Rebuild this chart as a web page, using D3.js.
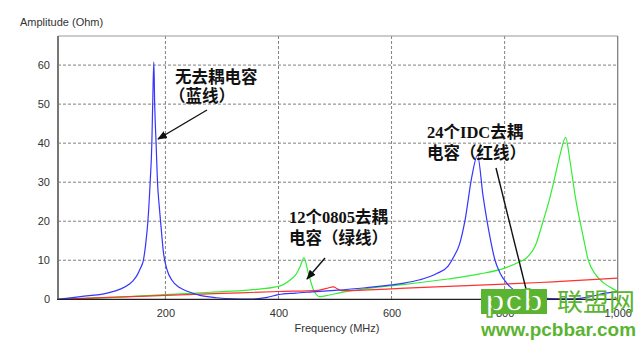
<!DOCTYPE html>
<html>
<head>
<meta charset="utf-8">
<script src="https://cdn.jsdelivr.net/npm/d3@7"></script>
<style>
  html, body { margin: 0; padding: 0; background: #fff; }
  svg { display: block; }
</style>
</head>
<body>
<svg id="chart" width="643" height="347"></svg>
<script>
// Impedance magnitude vs frequency for three decoupling configurations
const xTicks = [200, 400, 600, 800, 1000];
const yTicks = [0, 10, 20, 30, 40, 50, 60];

// No decoupling capacitors (blue)
const blueFreq = [10, 50, 97, 120, 137, 143, 150, 156, 161, 165, 169, 173, 176, 177.5, 179.5, 181, 183.5, 186, 189, 192, 196.5, 203, 211, 225, 240, 261, 290, 320, 350, 380, 400, 430, 460, 500, 550, 600, 620, 650, 680, 700, 710, 720, 730, 742, 752, 762, 774, 783, 792, 804, 827, 850, 880, 920, 950, 975, 1000];
const blueZ    = [0, 0.7, 1.6, 2.6, 4, 4.8, 6.2, 8, 10, 14, 20, 30, 40, 50, 60.8, 50, 40, 30, 24, 19, 12, 7.5, 5, 3, 2, 1, 0.4, 0.1, 0.05, 0.5, 1.2, 1.6, 1.9, 2.3, 2.9, 3.7, 4.1, 5.0, 6.6, 8.5, 10.9, 14, 20.3, 31.4, 36.9, 26.3, 16, 10, 6.7, 4.1, 1.5, 0.8, 0.2, 0.1, 0.6, 1.5, 1.9];

// 12 x 0805 decoupling capacitors (green)
const greenFreq = [10, 50, 100, 150, 200, 280, 350, 400, 420, 430, 438, 445, 453, 462, 473, 490, 510, 530, 570, 615, 700, 756, 800, 825, 838, 855, 868, 880, 889, 898, 908, 915, 925, 939, 948, 960, 975, 990, 1000];
const greenZ    = [0, 0.2, 0.45, 0.8, 1.2, 1.8, 2.4, 3.3, 4.9, 6.2, 8.3, 10.6, 6.6, 2.4, 0.7, 1.1, 1.7, 2.2, 3.0, 3.7, 5.2, 6.5, 8, 9.5, 10.5, 14, 20, 26, 31.4, 37, 41.5, 36, 26.3, 16, 10, 6.5, 4.2, 2.8, 2];

// 24 x IDC decoupling capacitors (red)
const redFreq = [10, 100, 200, 300, 400, 470, 485, 497, 505, 512, 615, 700, 800, 862, 900, 1000];
const redZ    = [0, 0.5, 1.0, 1.5, 2.0, 2.3, 2.8, 3.2, 2.6, 2.2, 2.8, 3.3, 3.9, 4.3, 4.6, 5.4];

const svg = d3.select("#chart");
const plotLeft = 58, plotRight = 617.7, plotTop = 36, plotBottom = 299.3;

const x = d3.scaleLinear().domain([10, 1000]).range([plotLeft, plotRight]);
const y = d3.scaleLinear().domain([0, 67.45]).range([plotBottom, plotTop]);

// Dashed grid
const grid = svg.append("g");
grid.selectAll("line.h").data(yTicks.filter(d => d > 0)).join("line")
  .attr("x1", plotLeft).attr("x2", plotRight)
  .attr("y1", d => y(d)).attr("y2", d => y(d))
  .attr("stroke", "#808080").attr("stroke-width", 1).attr("stroke-dasharray", "3,2");
grid.selectAll("line.v").data(xTicks.filter(d => d < 1000)).join("line")
  .attr("x1", d => x(d)).attr("x2", d => x(d))
  .attr("y1", plotTop).attr("y2", plotBottom)
  .attr("stroke", "#808080").attr("stroke-width", 1).attr("stroke-dasharray", "3,2");

// Axes (labels only)
const yAxis = svg.append("g").attr("transform", `translate(${plotLeft - 8},0)`)
  .call(d3.axisLeft(y).tickValues(yTicks).tickSize(0).tickPadding(0));
yAxis.select(".domain").remove();
yAxis.selectAll("text").attr("font-family", "Liberation Sans, Arial, sans-serif")
  .attr("font-size", 11).attr("fill", "#333");

const xAxis = svg.append("g").attr("transform", `translate(0,${plotBottom + 10})`)
  .call(d3.axisBottom(x).tickValues(xTicks).tickSize(0).tickPadding(0));
xAxis.select(".domain").remove();
xAxis.selectAll("text").attr("font-family", "Liberation Sans, Arial, sans-serif")
  .attr("font-size", 11).attr("fill", "#333");

// Curves
const line = d3.line().x(d => x(d[0])).y(d => y(d[1])).curve(d3.curveMonotoneX);
const series = [
  { f: greenFreq, z: greenZ, color: "#33ee33" },
  { f: redFreq, z: redZ, color: "#ff3030" },
  { f: blueFreq, z: blueZ, color: "#3535ff" }
];
series.forEach(s => {
  svg.append("path")
    .datum(s.f.map((f, i) => [f, s.z[i]]))
    .attr("d", line)
    .attr("fill", "none")
    .attr("stroke", s.color)
    .attr("stroke-width", 1.2);
});

// Frame
svg.append("line").attr("x1", plotLeft).attr("x2", plotRight).attr("y1", plotTop).attr("y2", plotTop)
  .attr("stroke", "#999").attr("stroke-width", 1);
svg.append("line").attr("x1", plotRight).attr("x2", plotRight).attr("y1", plotTop).attr("y2", plotBottom)
  .attr("stroke", "#777").attr("stroke-width", 1.2);
svg.append("line").attr("x1", plotLeft).attr("x2", plotLeft).attr("y1", plotTop).attr("y2", plotBottom)
  .attr("stroke", "#777").attr("stroke-width", 2);
svg.append("line").attr("x1", plotLeft - 1).attr("x2", plotRight).attr("y1", plotBottom).attr("y2", plotBottom)
  .attr("stroke", "#222").attr("stroke-width", 1.2);

// Axis titles
svg.append("text").attr("x", 20).attr("y", 26)
  .attr("font-family", "Liberation Sans, Arial, sans-serif").attr("font-size", 11).attr("fill", "#333")
  .text("Amplitude (Ohm)");
svg.append("text").attr("x", 337).attr("y", 332).attr("text-anchor", "middle")
  .attr("font-family", "Liberation Sans, Arial, sans-serif").attr("font-size", 11).attr("fill", "#333")
  .text("Frequency (MHz)");

// Annotations
const annoFont = "'Liberation Serif', 'Noto Sans CJK SC', serif";
const notes = [
  { lines: [["无去耦电容", 83], ["（蓝线）", 102]], xs: [175, 169] },
  { lines: [["12个0805去耦", 223], ["电容（绿线）", 244]], xs: [289, 289] },
  { lines: [["24个IDC去耦", 138], ["电容（红线）", 159]], xs: [427, 427] }
];
notes.forEach(n => {
  n.lines.forEach((l, i) => {
    svg.append("text").attr("x", n.xs[i]).attr("y", l[1])
      .attr("font-family", annoFont).attr("font-weight", "bold").attr("font-size", 16.5)
      .attr("fill", "#111").text(l[0]);
  });
});

svg.append("defs").append("marker")
  .attr("id", "head").attr("viewBox", "0 0 10 10").attr("refX", 9).attr("refY", 5)
  .attr("markerWidth", 7).attr("markerHeight", 7).attr("orient", "auto")
  .append("path").attr("d", "M0,1 L10,5 L0,9 Z").attr("fill", "#111");

const arrows = [
  [207, 110, 158, 139],
  [325, 258, 307, 279],
  [496, 168, 530, 305]
];
arrows.forEach(a => {
  svg.append("line").attr("x1", a[0]).attr("y1", a[1]).attr("x2", a[2]).attr("y2", a[3])
    .attr("stroke", "#111").attr("stroke-width", 1.4).attr("marker-end", "url(#head)");
});

// Site mark
const wm = "#5bb431";
svg.append("rect").attr("x", 481).attr("y", 289).attr("width", 66).attr("height", 25).attr("fill", wm);
svg.append("text").attr("x", 514).attr("y", 311).attr("text-anchor", "middle")
  .attr("font-family", "Liberation Sans, Arial, sans-serif").attr("font-weight", "bold")
  .attr("font-size", 29).attr("fill", "#fff").attr("stroke", wm).attr("stroke-width", 1.5)
  .attr("textLength", 58).attr("lengthAdjust", "spacingAndGlyphs").text("pcb");
svg.append("text").attr("x", 557).attr("y", 311)
  .attr("font-family", "'Noto Sans CJK SC', sans-serif").attr("font-size", 25)
  .attr("fill", wm).attr("textLength", 78).attr("lengthAdjust", "spacingAndGlyphs").text("联盟网");
svg.append("text").attr("x", 481).attr("y", 336)
  .attr("font-family", "Liberation Sans, Arial, sans-serif").attr("font-weight", "bold")
  .attr("font-size", 19).attr("fill", wm)
  .attr("textLength", 155).attr("lengthAdjust", "spacingAndGlyphs").text("www.pcbbar.com");
</script>
</body>
</html>
